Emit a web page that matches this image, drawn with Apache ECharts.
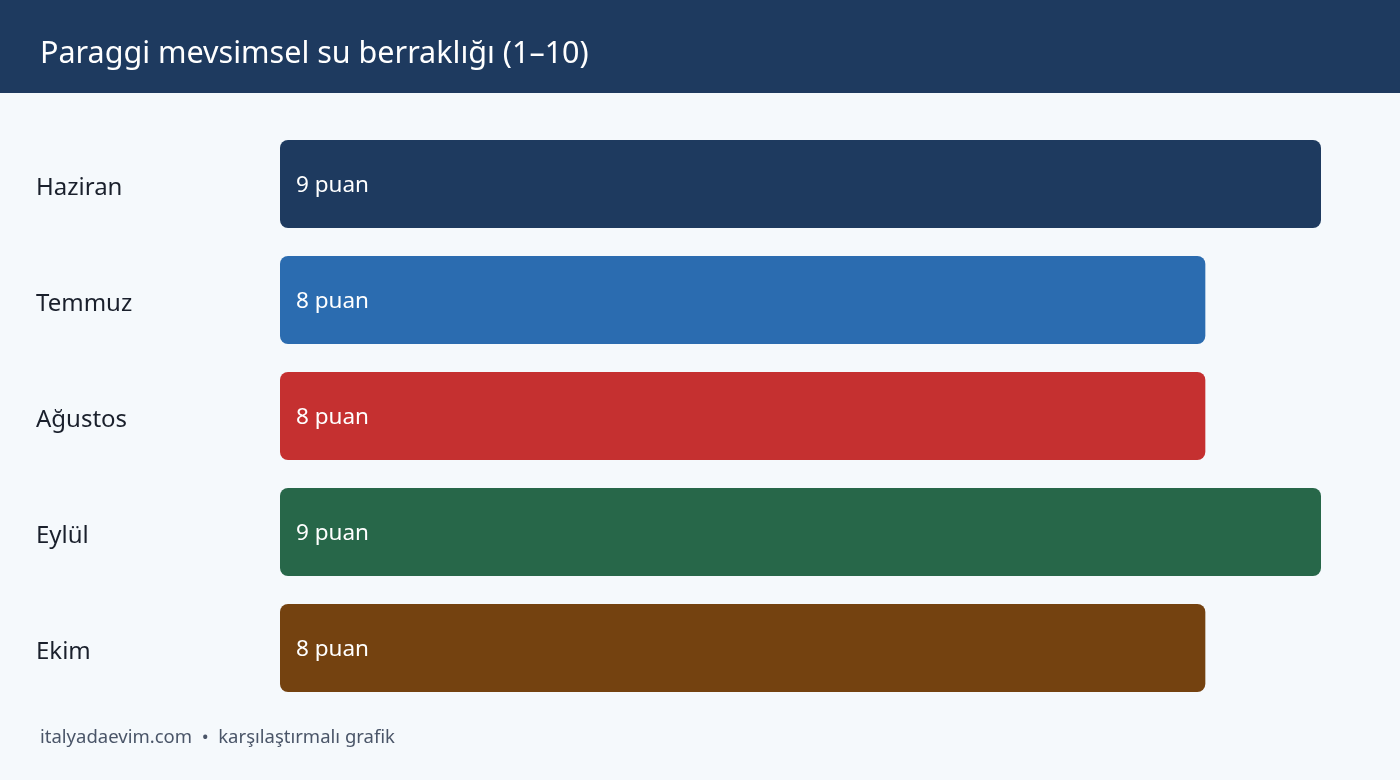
<!DOCTYPE html>
<html><head><meta charset="utf-8">
<script src="https://cdn.jsdelivr.net/npm/echarts@6/dist/echarts.min.js"></script>
<style>html,body{margin:0;padding:0;background:#f5f9fc}#c{width:1400px;height:780px}</style>
</head><body><div id="c"></div>
<script>
const categories = ['Haziran','Temmuz','Ağustos','Eylül','Ekim'];
const values = [9, 8, 8, 9, 8];
const colors = ['#1e3a5f','#2b6cb0','#c53030','#276749','#744210'];
const titleText = 'Paraggi mevsimsel su berraklığı (1–10)';
const footerText = 'italyadaevim.com  •  karşılaştırmalı grafik';
const unit = 'puan';
const font = '"Noto Sans", "Open Sans", sans-serif';

const chart = echarts.init(document.getElementById('c'));
chart.setOption({
  backgroundColor: '#f5f9fc',
  animation: false,
  graphic: [
    {type:'rect', left:0, top:0, shape:{width:1400, height:93}, style:{fill:'#1e3a5f'}},
    {type:'text', left:40, top:39, style:{text:titleText, fill:'#ffffff', font:'30.5px ' + font}},
    {type:'text', left:40, top:728, style:{text:footerText, fill:'#4a5568', font:'18.5px ' + font}}
  ],
  grid: {left:280, right:79, top:126, bottom:74, containLabel:false},
  xAxis: {type:'value', min:0, max:9, show:false},
  yAxis: {
    type:'category', data:categories, inverse:true,
    axisLine:{show:false}, axisTick:{show:false},
    axisLabel:{
      align:'left', margin:244,
      formatter: '{a|{value}}',
      rich: {a: {color:'#1a202c', fontSize:24, fontFamily:font, padding:[8,0,0,0]}}
    }
  },
  series: [{
    type:'bar', barWidth:88,
    data: values.map((v,i)=>({value:v, itemStyle:{color:colors[i], borderRadius:8}})),
    label:{
      show:true, position:'insideLeft', distance:16, offset:[0,2],
      color:'#ffffff', fontSize:22.5, fontFamily:font,
      formatter: p => p.value + ' ' + unit
    }
  }]
});
</script></body></html>
